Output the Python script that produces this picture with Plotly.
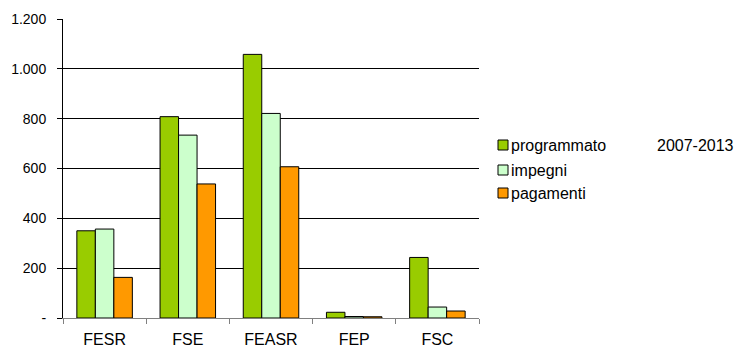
import plotly.graph_objects as go

# Fondi strutturali: risorse programmate, impegni e pagamenti (milioni di euro)
categories = ["FESR", "FSE", "FEASR", "FEP", "FSC"]
programmato = [350, 808, 1058, 23, 243]
impegni = [357, 734, 821, 6, 44]
pagamenti = [163, 538, 607, 5, 28]

series_names = ["programmato", "impegni", "pagamenti"]
series_colors = ["#99CC00", "#CCFFCC", "#FF9900"]

y_ticks = [0, 200, 400, 600, 800, 1000, 1200]
y_labels = ["-", "200", "400", "600", "800", "1.000", "1.200"]

FONT = "Liberation Sans, Arial, sans-serif"

# plot area in pixels
W, H = 738, 347
L, R, T, B = 63, 479, 19, 318


def px_x(x):
    return (x - L) / (R - L)


def px_y(y):
    return (B - y) / (B - T)


fig = go.Figure()
for name, vals, col in zip(series_names, [programmato, impegni, pagamenti], series_colors):
    fig.add_trace(go.Bar(
        x=categories, y=vals, name=name,
        marker=dict(color=col, line=dict(color="black", width=1)),
        showlegend=False,
    ))

# legend drawn as swatches + labels
shapes = []
annotations = []
legend_rows = [145, 170, 193]
for name, col, yc in zip(series_names, series_colors, legend_rows):
    shapes.append(dict(
        type="rect", xref="paper", yref="paper",
        x0=px_x(498), x1=px_x(508), y0=px_y(yc + 5), y1=px_y(yc - 5),
        fillcolor=col, line=dict(color="black", width=1),
    ))
    annotations.append(dict(
        xref="paper", yref="paper", x=px_x(509), y=px_y(yc),
        xanchor="left", yanchor="middle", text=name, showarrow=False,
        font=dict(family=FONT, size=16, color="black"),
    ))
annotations.append(dict(
    xref="paper", yref="paper", x=px_x(655), y=px_y(145),
    xanchor="left", yanchor="middle", text="2007-2013", showarrow=False,
    font=dict(family=FONT, size=16, color="black"),
))

fig.update_layout(
    width=W, height=H,
    margin=dict(l=L, r=W - R, t=T, b=H - B, pad=0),
    paper_bgcolor="white", plot_bgcolor="white",
    barmode="group", bargap=0.333, bargroupgap=0,
    font=dict(family=FONT, size=14, color="black"),
    shapes=shapes, annotations=annotations,
    showlegend=False,
)
fig.update_xaxes(
    showline=True, linecolor="#808080", linewidth=1,
    ticks="outside", tickson="boundaries", ticklen=5, tickcolor="#808080",
    showgrid=False, tickfont=dict(size=16), automargin=False,
    ticklabelstandoff=7,
)
fig.update_yaxes(
    range=[0, 1200], tickvals=y_ticks, ticktext=y_labels,
    showline=True, linecolor="black", linewidth=1,
    ticks="outside", ticklen=5, tickcolor="black",
    showgrid=True, gridcolor="black", gridwidth=1,
    zeroline=False, tickfont=dict(size=14), ticklabelstandoff=8,
    automargin=False,
)

fig.write_html("out.html")
